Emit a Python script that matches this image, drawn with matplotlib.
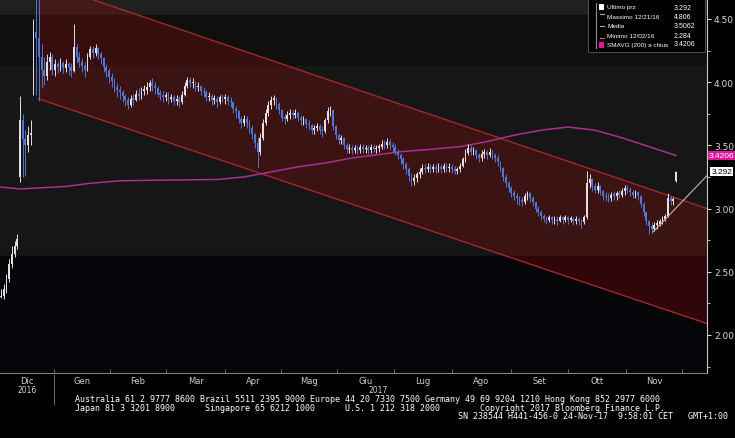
import numpy as np
import matplotlib.pyplot as plt
from matplotlib.patches import Polygon, Rectangle
from matplotlib.lines import Line2D
from matplotlib.ticker import MultipleLocator, FixedLocator

# daily bars, 1 Dec 2016 .. 24 Nov 2017 (x = trading-day index)
closes = [
    2.31, 2.36, 2.44, 2.56, 2.64, 2.70, 2.76, 3.70, 3.55, 3.50,
    3.58, 3.60, 4.40, 4.35, 4.20, 4.10, 4.05, 4.16, 4.20, 4.10,
    4.14, 4.12, 4.15, 4.11, 4.14, 4.12, 4.09, 4.28, 4.20, 4.16,
    4.13, 4.10, 4.20, 4.26, 4.23, 4.27, 4.22, 4.19, 4.12, 4.09,
    4.04, 4.01, 3.96, 3.94, 3.92, 3.89, 3.86, 3.82, 3.87, 3.86,
    3.91, 3.89, 3.93, 3.94, 3.96, 3.99, 3.97, 3.95, 3.91, 3.90,
    3.88, 3.90, 3.87, 3.88, 3.85, 3.87, 3.84, 3.90, 3.97, 4.02,
    3.99, 4.00, 3.96, 3.97, 3.93, 3.92, 3.88, 3.89, 3.86, 3.87,
    3.84, 3.88, 3.87, 3.88, 3.85, 3.84, 3.79, 3.77, 3.71, 3.68,
    3.71, 3.68, 3.64, 3.59, 3.52, 3.45, 3.56, 3.68, 3.76, 3.82,
    3.86, 3.87, 3.83, 3.78, 3.72, 3.71, 3.74, 3.76, 3.74, 3.76,
    3.72, 3.70, 3.71, 3.67, 3.66, 3.62, 3.64, 3.65, 3.62, 3.61,
    3.70, 3.77, 3.78, 3.65, 3.58, 3.54, 3.56, 3.50, 3.47, 3.48,
    3.46, 3.48, 3.46, 3.49, 3.47, 3.48, 3.46, 3.49, 3.47, 3.48,
    3.49, 3.51, 3.50, 3.53, 3.50, 3.49, 3.45, 3.42, 3.39, 3.35,
    3.31, 3.26, 3.22, 3.24, 3.27, 3.29, 3.32, 3.31, 3.33, 3.31,
    3.33, 3.31, 3.33, 3.31, 3.34, 3.32, 3.33, 3.31, 3.30, 3.31,
    3.34, 3.39, 3.44, 3.48, 3.45, 3.46, 3.42, 3.40, 3.43, 3.45,
    3.42, 3.45, 3.42, 3.40, 3.37, 3.32, 3.25, 3.20, 3.16, 3.12,
    3.10, 3.08, 3.07, 3.05, 3.10, 3.12, 3.08, 3.05, 3.00, 2.97,
    2.94, 2.92, 2.91, 2.93, 2.91, 2.92, 2.90, 2.93, 2.91, 2.93,
    2.91, 2.92, 2.90, 2.92, 2.90, 2.89, 2.93, 3.20, 3.23, 3.18,
    3.15, 3.18, 3.14, 3.10, 3.09, 3.08, 3.11, 3.10, 3.12, 3.11,
    3.14, 3.16, 3.15, 3.13, 3.11, 3.13, 3.10, 3.04, 2.97, 2.90,
    2.86, 2.84, 2.87, 2.88, 2.90, 2.92, 2.94, 3.08, 3.06, 3.07,
    3.292,
]
highs = [
    2.36, 2.40, 2.48, 2.60, 2.70, 2.74, 2.80, 3.89, 3.75, 3.62,
    3.65, 3.70, 4.50, 4.75, 4.806, 4.30, 4.20, 4.22, 4.24, 4.22,
    4.18, 4.17, 4.19, 4.17, 4.18, 4.16, 4.15, 4.46, 4.30, 4.24,
    4.19, 4.16, 4.23, 4.29, 4.29, 4.30, 4.28, 4.24, 4.20, 4.14,
    4.11, 4.07, 4.03, 3.99, 3.97, 3.94, 3.91, 3.88, 3.90, 3.91,
    3.94, 3.95, 3.96, 3.98, 4.00, 4.02, 4.03, 4.00, 3.97, 3.94,
    3.93, 3.92, 3.92, 3.91, 3.90, 3.90, 3.89, 3.93, 4.00, 4.04,
    4.04, 4.03, 4.01, 4.00, 3.98, 3.96, 3.94, 3.92, 3.91, 3.90,
    3.89, 3.90, 3.91, 3.91, 3.90, 3.88, 3.85, 3.81, 3.78, 3.73,
    3.74, 3.73, 3.70, 3.66, 3.60, 3.57, 3.60, 3.71, 3.79, 3.85,
    3.89, 3.90, 3.88, 3.84, 3.79, 3.75, 3.77, 3.79, 3.78, 3.79,
    3.77, 3.74, 3.73, 3.72, 3.70, 3.67, 3.66, 3.68, 3.67, 3.65,
    3.72, 3.80, 3.81, 3.78, 3.66, 3.60, 3.58, 3.57, 3.52, 3.51,
    3.50, 3.50, 3.50, 3.51, 3.51, 3.50, 3.50, 3.51, 3.51, 3.50,
    3.51, 3.54, 3.54, 3.56, 3.55, 3.53, 3.51, 3.47, 3.44, 3.41,
    3.37, 3.33, 3.28, 3.27, 3.29, 3.32, 3.35, 3.35, 3.36, 3.35,
    3.35, 3.35, 3.36, 3.35, 3.36, 3.36, 3.36, 3.35, 3.34, 3.33,
    3.36, 3.41, 3.47, 3.51, 3.50, 3.49, 3.47, 3.44, 3.46, 3.47,
    3.46, 3.48, 3.46, 3.44, 3.42, 3.38, 3.33, 3.27, 3.22, 3.18,
    3.15, 3.12, 3.10, 3.09, 3.12, 3.14, 3.13, 3.10, 3.06, 3.02,
    2.99, 2.96, 2.94, 2.95, 2.94, 2.94, 2.94, 2.95, 2.94, 2.95,
    2.94, 2.94, 2.93, 2.94, 2.93, 2.92, 2.95, 3.30, 3.27, 3.24,
    3.20, 3.21, 3.19, 3.15, 3.13, 3.12, 3.13, 3.14, 3.14, 3.15,
    3.16, 3.19, 3.19, 3.17, 3.15, 3.15, 3.14, 3.11, 3.05, 2.98,
    2.91, 2.89, 2.89, 2.91, 2.92, 2.94, 2.96, 3.12, 3.10, 3.09,
    3.30,
]
lows = [
    2.29, 2.284, 2.33, 2.42, 2.53, 2.62, 2.68, 3.21, 3.25, 3.26,
    3.45, 3.50, 3.90, 3.90, 3.85, 3.95, 3.98, 4.02, 4.10, 4.06,
    4.05, 4.07, 4.09, 4.07, 4.08, 4.06, 4.04, 4.08, 4.15, 4.12,
    4.08, 4.04, 4.09, 4.18, 4.19, 4.21, 4.18, 4.14, 4.08, 4.04,
    3.99, 3.96, 3.92, 3.88, 3.87, 3.84, 3.81, 3.79, 3.80, 3.82,
    3.85, 3.86, 3.87, 3.90, 3.91, 3.93, 3.93, 3.91, 3.88, 3.86,
    3.84, 3.85, 3.83, 3.84, 3.82, 3.82, 3.80, 3.83, 3.89, 3.95,
    3.96, 3.95, 3.93, 3.93, 3.90, 3.88, 3.85, 3.85, 3.82, 3.83,
    3.80, 3.83, 3.84, 3.83, 3.82, 3.80, 3.76, 3.72, 3.68, 3.64,
    3.65, 3.64, 3.60, 3.55, 3.48, 3.33, 3.42, 3.54, 3.66, 3.73,
    3.79, 3.82, 3.79, 3.75, 3.69, 3.67, 3.69, 3.71, 3.71, 3.72,
    3.69, 3.66, 3.66, 3.64, 3.62, 3.59, 3.59, 3.61, 3.59, 3.57,
    3.60, 3.68, 3.73, 3.62, 3.55, 3.51, 3.51, 3.47, 3.44, 3.44,
    3.43, 3.44, 3.43, 3.44, 3.44, 3.44, 3.43, 3.44, 3.45, 3.44,
    3.45, 3.47, 3.47, 3.48, 3.47, 3.45, 3.42, 3.39, 3.35, 3.31,
    3.27, 3.22, 3.18, 3.19, 3.21, 3.24, 3.27, 3.28, 3.29, 3.28,
    3.29, 3.28, 3.29, 3.28, 3.29, 3.29, 3.29, 3.28, 3.27, 3.27,
    3.29, 3.33, 3.37, 3.42, 3.42, 3.42, 3.39, 3.37, 3.38, 3.40,
    3.39, 3.41, 3.39, 3.37, 3.34, 3.29, 3.22, 3.17, 3.13, 3.09,
    3.07, 3.04, 3.03, 3.02, 3.04, 3.07, 3.05, 3.02, 2.97, 2.94,
    2.91, 2.89, 2.88, 2.89, 2.88, 2.88, 2.87, 2.89, 2.88, 2.89,
    2.88, 2.89, 2.87, 2.88, 2.87, 2.85, 2.88, 2.92, 3.16, 3.14,
    3.12, 3.12, 3.11, 3.07, 3.06, 3.05, 3.06, 3.07, 3.07, 3.08,
    3.09, 3.11, 3.12, 3.10, 3.08, 3.08, 3.07, 3.01, 2.94, 2.87,
    2.80, 2.81, 2.82, 2.84, 2.86, 2.88, 2.90, 2.93, 3.03, 3.03,
    3.21,
]
first_open = 2.30
# opens after an overnight price gap (otherwise open = previous close)
gap_opens = {7: 3.25, 12: 3.95, 250: 3.22}

# 200-day simple moving average
ma_idx = [0, 7, 24, 33, 44, 60, 80, 90, 100, 110, 120, 130, 148, 160, 170,
          180, 190, 200, 210, 220, 230, 240, 250]
ma_val = [3.17, 3.155, 3.175, 3.20, 3.22, 3.225, 3.23, 3.25, 3.29, 3.33, 3.36,
          3.40, 3.45, 3.47, 3.49, 3.53, 3.58, 3.62, 3.645, 3.62, 3.56, 3.49, 3.42]

# regression channel and trend line
chan_x = [13.7, 261.5]
chan_up = [4.80, 3.00]
chan_lo = [3.87, 2.09]
trend_x = [241.5, 261.5]
trend_y = [2.815, 3.26]

months = ['Dic', 'Gen', 'Feb', 'Mar', 'Apr', 'Mag', 'Giu', 'Lug', 'Ago', 'Set', 'Ott', 'Nov']
month_bounds = [-0.4, 19.6, 40.4, 61.1, 83.0, 103.7, 124.4, 145.6, 167.0, 188.9, 210.0, 231.5, 252.2]

legend_rows = [('Ultimo prz', '3.292'), ('Massimo 12/21/16', '4.806'), ('Media', '3.5062'),
               ('Minimo 12/02/16', '2.284'), ('SMAVG (200) a chius', '3.4206')]
last_price = 3.292
last_sma = 3.4206

narrow = ['Liberation Sans Narrow', 'Liberation Sans', 'DejaVu Sans']

fig = plt.figure(figsize=(7.35, 4.39), dpi=100, facecolor='black')
ax = fig.add_axes([0, 65 / 439, 707 / 735, 374 / 439])
ax.set_facecolor('#161616')
ax.set_xlim(-0.4, 261.5)
ax.set_ylim(1.699, 4.658)

# background bands
ax.axhspan(4.535, 5.0, color='#202020', zorder=0)
ax.axhspan(4.128, 4.535, color='#0f0f0f', zorder=0)
ax.axhspan(2.625, 4.128, color='#161616', zorder=0)
ax.axhspan(1.0, 2.625, color='#05050a', zorder=0)

chan = Polygon([(chan_x[0], chan_up[0]), (chan_x[1], chan_up[1]),
                (chan_x[1], chan_lo[1]), (chan_x[0], chan_lo[0])],
               closed=True, facecolor='#930d0d', alpha=0.3, edgecolor='none', zorder=1)
ax.add_patch(chan)
ax.plot(chan_x, chan_up, color='#a02828', lw=1, zorder=2)
ax.plot(chan_x, chan_lo, color='#a02828', lw=1, zorder=2)

ax.plot(ma_idx, ma_val, color='#a8308f', lw=1.1, zorder=3)

# candles
prev = first_open
for i, c in enumerate(closes):
    o = gap_opens.get(i, prev)
    col = '#e8dcdc' if c >= o else '#4d78d8'
    ax.vlines(i, lows[i], highs[i], color=col, lw=0.7, zorder=4)
    ax.bar(i, max(abs(c - o), 0.012), bottom=min(o, c), width=0.65,
           color=col, linewidth=0, zorder=4)
    prev = c

ax.plot(trend_x, trend_y, color='#b8b8b8', lw=0.8, zorder=5)

# axes styling
ax.yaxis.tick_right()
ax.yaxis.set_major_locator(MultipleLocator(0.5))
ax.yaxis.set_minor_locator(MultipleLocator(0.25))
ax.yaxis.set_major_formatter(plt.FormatStrFormatter('%.2f'))
ax.tick_params(axis='y', which='major', colors='#d8d8d8', labelsize=6.5, length=3, width=0.8, pad=2)
ax.tick_params(axis='y', which='minor', colors='#d8d8d8', length=2, width=0.6)

ax.xaxis.set_major_locator(FixedLocator(month_bounds[1:]))
ax.xaxis.set_major_formatter(plt.NullFormatter())
centers = [(month_bounds[k] + month_bounds[k + 1]) / 2 for k in range(len(months))]
ax.xaxis.set_minor_locator(FixedLocator(centers))
ax.xaxis.set_minor_formatter(plt.FixedFormatter(months))
ax.tick_params(axis='x', which='major', direction='in', length=3, colors='#808080', width=0.6)
ax.tick_params(axis='x', which='minor', length=0, labelsize=6, labelcolor='#d0d0d0', pad=2)

for s in ['top', 'left']:
    ax.spines[s].set_visible(False)
ax.spines['right'].set_color('#c8c8c8')
ax.spines['bottom'].set_color('#808080')
ax.spines['bottom'].set_linewidth(0.8)

fig.text(27 / 735, 1 - 391 / 439, '2016', color='#d0d0d0', fontsize=5.5, ha='center', va='center')
fig.text(378 / 735, 1 - 391 / 439, '2017', color='#d0d0d0', fontsize=5.5, ha='center', va='center')
fig.add_artist(Line2D([54 / 735, 54 / 735], [1 - 376 / 439, 1 - 405 / 439], color='#808080', lw=0.6))

# right-hand value tags
tr = ax.get_yaxis_transform()
ax.text(1.003, last_sma, f'{last_sma:.4f}', transform=tr, fontsize=6, family=narrow,
        color='white', va='center', ha='left', clip_on=False,
        bbox=dict(boxstyle='square,pad=0.15', facecolor='#e0179b', edgecolor='none'))
ax.text(1.006, last_price, f'{last_price:.3f}', transform=tr, fontsize=6, family=narrow,
        color='black', va='center', ha='left', clip_on=False,
        bbox=dict(boxstyle='square,pad=0.15', facecolor='white', edgecolor='none'))

# legend box
fig.add_artist(Rectangle((588 / 735, 1 - 53 / 439), 117 / 735, 53 / 439, transform=fig.transFigure,
                         facecolor='black', edgecolor='#4a4a4a', lw=0.8, zorder=10))
row_y = [8, 17.5, 27, 36, 45]
for (name, val), yy in zip(legend_rows, row_y):
    fy = 1 - yy / 439
    fig.text(607 / 735, fy, name, color='white', fontsize=4.6, family=narrow, va='center', zorder=11)
    fig.text(674 / 735, fy, val, color='white', fontsize=5.0, family=narrow, va='center', zorder=11)
fig.add_artist(Line2D([596 / 735, 596 / 735], [1 - 4 / 439, 1 - 49 / 439], color='#909090', lw=0.8, zorder=11))
fig.add_artist(Rectangle((599 / 735, 1 - 11 / 439), 5 / 735, 6 / 439, transform=fig.transFigure,
                         facecolor='white', edgecolor='none', zorder=12))
fig.add_artist(Rectangle((599 / 735, 1 - 48.5 / 439), 5 / 735, 6 / 439, transform=fig.transFigure,
                         facecolor='#e0179b', edgecolor='none', zorder=12))
fig.add_artist(Line2D([600 / 735, 604 / 735], [1 - 27 / 439] * 2, color='#b0b0b0', lw=0.8, zorder=12))
fig.add_artist(Line2D([600 / 735, 604 / 735], [1 - 15 / 439] * 2, color='#b0b0b0', lw=0.8, zorder=12))
fig.add_artist(Line2D([600 / 735, 604 / 735], [1 - 39 / 439] * 2, color='#d06090', lw=0.8, zorder=12))

# footer
mono = dict(family='DejaVu Sans Mono', fontsize=6, color='white')
fig.text(75 / 735, 1 - 400 / 439,
         'Australia 61 2 9777 8600 Brazil 5511 2395 9000 Europe 44 20 7330 7500 '
         'Germany 49 69 9204 1210 Hong Kong 852 2977 6000', va='center', **mono)
fig.text(75 / 735, 1 - 408.5 / 439,
         'Japan 81 3 3201 8900      Singapore 65 6212 1000      U.S. 1 212 318 2000'
         '        Copyright 2017 Bloomberg Finance L.P.', va='center', **mono)
fig.text(458 / 735, 1 - 417 / 439,
         'SN 238544 H441-456-0 24-Nov-17  9:58:01 CET   GMT+1:00', va='center', **mono)

fig.savefig('out.png', dpi=100, facecolor='black')
